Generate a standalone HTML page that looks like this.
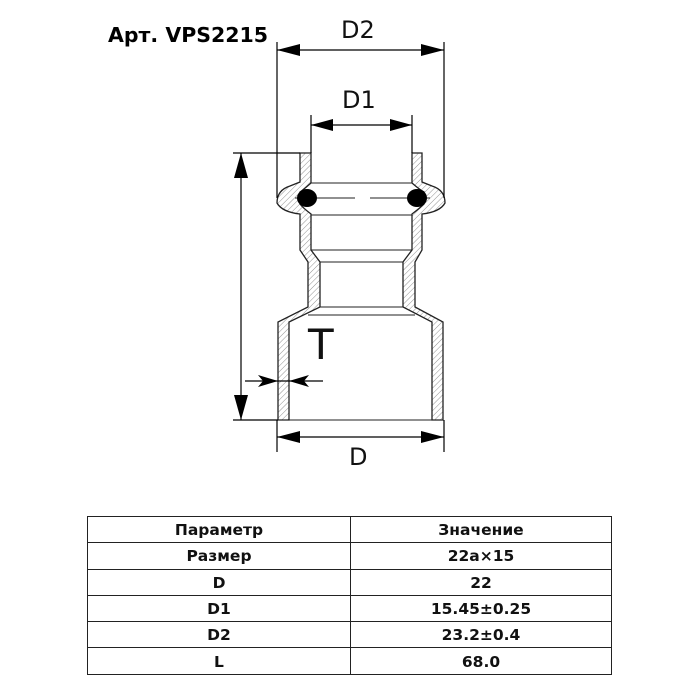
<!DOCTYPE html>
<html><head><meta charset="utf-8"><style>
body{margin:0;background:#fff;width:700px;height:700px;position:relative;overflow:hidden;font-family:"DejaVu Sans",sans-serif}
svg{position:absolute;left:0;top:0}
table{position:absolute;left:87px;top:516px;width:525px;border-collapse:collapse;font-family:"DejaVu Sans",sans-serif;font-weight:bold;font-size:15.5px;color:#111}
td{border:1px solid #222;height:23.3px;padding:2px 0 0 0;text-align:center;line-height:23px;box-sizing:content-box}
</style></head><body>
<svg width="700" height="700" viewBox="0 0 700 700">
<defs><pattern id="h" width="4" height="4" patternUnits="userSpaceOnUse" patternTransform="rotate(45)"><line x1="0" y1="0" x2="0" y2="4" stroke="#777" stroke-width="0.8"/></pattern></defs>
<text x="108" y="42" font-family="DejaVu Sans,sans-serif" font-weight="bold" font-size="20.5" fill="#000">Арт. VPS2215</text>
<g stroke="#222" stroke-width="1.3" fill="url(#h)">
<path d="M300,153 L311,153 L311,183 Q303,190 300,192 L300,204 Q303,208 311,214 L311,250 L320,262 L320,307 L289,322 L289,420 L278,420 L278,322 L308,307 L308,262 L300,250 L300,214 Q282,212 277,203 Q277,190 290,186 L300,182 Z"/>
<path d="M422,153 L412,153 L412,183 Q420,190 424,192 L424,204 Q420,208 412,214 L412,250 L403,262 L403,307 L432,322 L432,420 L443,420 L443,322 L415,307 L415,262 L422,250 L422,214 Q440,212 445,203 Q445,190 432,186 L422,182 Z"/>
</g>
<g stroke="#222" stroke-width="1" fill="none">
<line x1="311" y1="183" x2="412" y2="183"/>
<line x1="311" y1="215" x2="412" y2="215"/>
<line x1="311" y1="250" x2="412" y2="250"/>
<line x1="320" y1="262" x2="403" y2="262"/>
<line x1="320" y1="307" x2="403" y2="307"/>
<line x1="308" y1="315" x2="415" y2="315"/>
<line x1="289" y1="420" x2="432" y2="420"/>
<line x1="295" y1="198" x2="355" y2="198"/><line x1="370" y1="198" x2="430" y2="198"/>
</g>
<ellipse cx="307" cy="198" rx="10" ry="9" fill="#000"/>
<ellipse cx="417" cy="198" rx="10" ry="9" fill="#000"/>
<g stroke="#000" stroke-width="1.2" fill="none">
<line x1="277" y1="42" x2="277" y2="198"/><line x1="444" y1="42" x2="444" y2="198"/>
<line x1="277" y1="50" x2="444" y2="50"/>
<line x1="311" y1="115" x2="311" y2="153"/><line x1="412" y1="115" x2="412" y2="153"/>
<line x1="311" y1="125" x2="412" y2="125"/>
<line x1="233" y1="153" x2="300" y2="153"/><line x1="233" y1="420" x2="278" y2="420"/>
<line x1="241" y1="153" x2="241" y2="420"/>
<line x1="277" y1="420" x2="277" y2="452"/><line x1="444" y1="420" x2="444" y2="452"/>
<line x1="277" y1="437" x2="444" y2="437"/>
<line x1="245" y1="381" x2="323" y2="381"/>
</g>
<g fill="#000">
<polygon points="277,50 300,44 300,56"/><polygon points="444,50 421,44 421,56"/>
<polygon points="311,125 333,119 333,131"/><polygon points="412,125 390,119 390,131"/>
<polygon points="241,153 234,178 248,178"/><polygon points="241,420 234,395 248,395"/>
<polygon points="277,437 300,431 300,443"/><polygon points="444,437 421,431 421,443"/>
<polygon points="278,381 258,375 263,381 258,387"/><polygon points="289,381 309,375 304,381 309,387"/>
</g>
<text x="341" y="38" font-family="DejaVu Sans,sans-serif" font-size="24" fill="#111">D2</text>
<text x="342" y="108" font-family="DejaVu Sans,sans-serif" font-size="24" fill="#111">D1</text>
<text x="349" y="465" font-family="DejaVu Sans,sans-serif" font-size="24" fill="#111">D</text>
<text x="308" y="359" font-family="DejaVu Sans,sans-serif" font-size="42" fill="#111">T</text>
</svg>
<table>
<tr><td style="width:262px">Параметр</td><td>Значение</td></tr>
<tr><td>Размер</td><td>22a×15</td></tr>
<tr><td>D</td><td>22</td></tr>
<tr><td>D1</td><td>15.45±0.25</td></tr>
<tr><td>D2</td><td>23.2±0.4</td></tr>
<tr><td>L</td><td>68.0</td></tr>
</table>
</body></html>
